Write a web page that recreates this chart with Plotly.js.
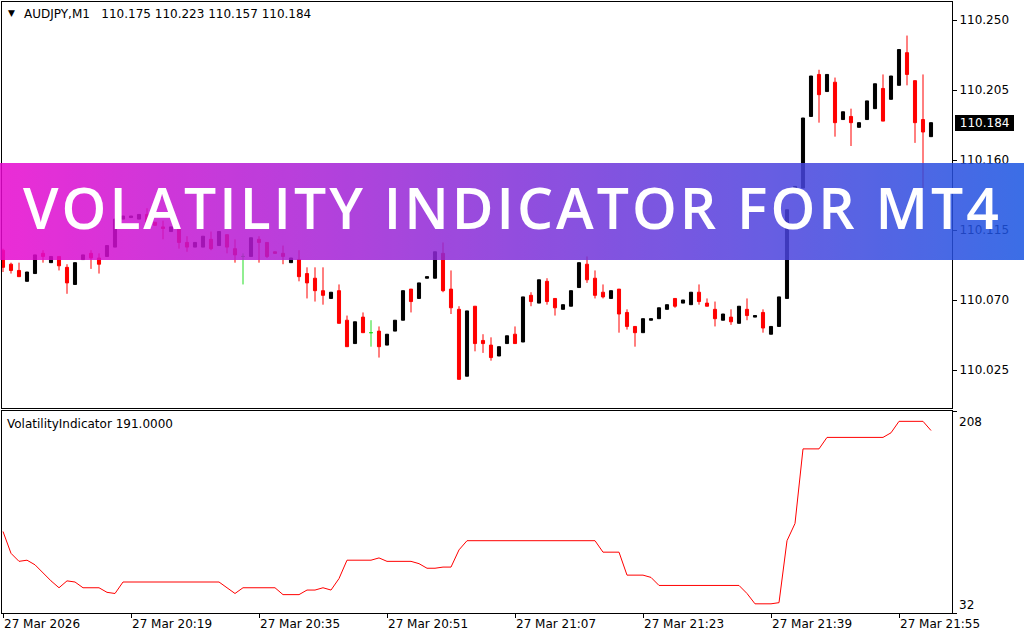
<!DOCTYPE html>
<html><head><meta charset="utf-8">
<script src="https://cdn.plot.ly/plotly-3.0.1.min.js"></script>
<style>html,body{margin:0;padding:0;background:#fff;overflow:hidden}#chart{width:1024px;height:640px}</style>
</head><body><div id="chart"></div>
<script>
// ---------- DATA ----------
const times = ["20:03","20:04","20:05","20:06","20:07","20:08","20:09","20:10","20:11","20:12","20:13","20:14","20:15","20:16","20:17","20:18","20:19","20:20","20:21","20:22","20:23","20:24","20:25","20:26","20:27","20:28","20:29","20:30","20:31","20:32","20:33","20:34","20:35","20:36","20:37","20:38","20:39","20:40","20:41","20:42","20:43","20:44","20:45","20:46","20:47","20:48","20:49","20:50","20:51","20:52","20:53","20:54","20:55","20:56","20:57","20:58","20:59",
"21:00","21:01","21:02","21:03","21:04","21:05","21:06","21:07","21:08","21:09","21:10","21:11","21:12","21:13","21:14","21:15","21:16","21:17","21:18","21:19","21:20","21:21","21:22","21:23","21:24","21:25","21:26","21:27","21:28","21:29","21:30","21:31","21:32","21:33","21:34","21:35","21:36","21:37","21:38","21:39","21:40","21:41","21:42","21:43","21:44","21:45","21:46","21:47","21:48","21:49","21:50","21:51","21:52","21:53","21:54","21:55","21:56","21:57","21:58","21:59"];

const openP = [110.102,110.093,110.089,110.082,110.087,110.100,110.094,110.098,110.091,110.080,
110.096,110.100,110.097,110.098,110.104,110.122,110.123,110.122,110.125,110.120,
110.117,110.114,110.116,110.107,110.104,110.104,110.109,110.105,110.112,110.103,
110.098,110.098,110.109,110.107,110.101,110.100,110.094,110.096,110.087,110.084,
110.076,110.071,110.076,110.057,110.042,110.059,110.049,110.050,110.041,110.050,
110.057,110.077,110.071,110.084,110.084,110.100,110.077,110.064,110.021,110.066,
110.044,110.041,110.034,110.042,110.048,110.043,110.073,110.068,110.082,110.071,
110.064,110.066,110.078,110.093,110.084,110.075,110.071,110.077,110.062,110.053,
110.049,110.057,110.058,110.064,110.071,110.068,110.067,110.075,110.068,110.064,
110.057,110.059,110.055,110.064,110.059,110.062,110.048,110.053,110.071,110.141,
110.142,110.188,110.215,110.204,110.210,110.186,110.188,110.181,110.186,110.193,
110.206,110.199,110.208,110.229,110.211,110.186,110.175];

const highP = [110.103,110.094,110.094,110.088,110.099,110.102,110.098,110.098,110.093,110.094,
110.099,110.102,110.100,110.105,110.122,110.124,110.124,110.125,110.129,110.120,
110.121,110.117,110.116,110.111,110.107,110.111,110.114,110.114,110.112,110.109,
110.100,110.110,110.111,110.107,110.101,110.105,110.097,110.102,110.091,110.091,
110.091,110.075,110.080,110.060,110.056,110.062,110.057,110.053,110.048,110.057,
110.076,110.077,110.081,110.085,110.101,110.107,110.089,110.066,110.063,110.066,
110.048,110.046,110.040,110.047,110.053,110.072,110.075,110.083,110.084,110.071,
110.067,110.076,110.094,110.098,110.089,110.080,110.076,110.077,110.064,110.053,
110.058,110.058,110.065,110.067,110.071,110.070,110.075,110.080,110.071,110.069,
110.061,110.064,110.066,110.071,110.060,110.064,110.053,110.072,110.128,110.143,
110.187,110.214,110.218,110.215,110.213,110.191,110.193,110.184,110.198,110.209,
110.215,110.214,110.231,110.240,110.211,110.215,110.184];

const lowP = [110.088,110.087,110.085,110.082,110.087,110.094,110.094,110.089,110.074,110.080,
110.096,110.090,110.087,110.098,110.104,110.122,110.123,110.122,110.120,110.118,
110.109,110.114,110.103,110.101,110.104,110.104,110.102,110.105,110.100,110.094,
110.080,110.098,110.094,110.097,110.100,110.093,110.094,110.082,110.071,110.069,
110.067,110.071,110.055,110.040,110.042,110.049,110.040,110.033,110.041,110.050,
110.057,110.062,110.071,110.084,110.084,110.075,110.061,110.019,110.021,110.037,
110.036,110.031,110.034,110.042,110.042,110.043,110.066,110.068,110.067,110.060,
110.064,110.066,110.078,110.081,110.071,110.071,110.071,110.049,110.051,110.040,
110.049,110.057,110.058,110.064,110.065,110.068,110.067,110.067,110.066,110.053,
110.057,110.054,110.055,110.057,110.059,110.049,110.048,110.053,110.071,110.141,
110.142,110.188,110.184,110.204,110.175,110.186,110.169,110.181,110.186,110.193,
110.185,110.199,110.208,110.208,110.171,110.142,110.175];

const closeP = [110.091,110.089,110.085,110.088,110.099,110.098,110.098,110.092,110.081,110.094,
110.099,110.097,110.093,110.105,110.122,110.124,110.124,110.125,110.120,110.118,
110.116,110.117,110.107,110.104,110.107,110.111,110.103,110.114,110.104,110.099,
110.098,110.110,110.107,110.098,110.100,110.098,110.097,110.085,110.081,110.076,
110.073,110.075,110.055,110.040,110.056,110.049,110.049,110.040,110.048,110.057,
110.076,110.069,110.081,110.085,110.101,110.076,110.065,110.019,110.063,110.042,
110.042,110.033,110.040,110.047,110.042,110.072,110.069,110.083,110.069,110.065,
110.067,110.076,110.094,110.083,110.073,110.072,110.076,110.061,110.053,110.049,
110.058,110.058,110.065,110.067,110.066,110.070,110.075,110.069,110.066,110.058,
110.061,110.056,110.066,110.060,110.060,110.052,110.053,110.072,110.128,110.143,
110.187,110.214,110.202,110.215,110.184,110.191,110.184,110.184,110.198,110.209,
110.185,110.214,110.231,110.215,110.184,110.178,110.184];

const volatility = [103,84,77,78,74,67,60,54,60,59,54,54,54,50,49,
59,59,59,59,59,59,59,59,59,59,59,59,59,
54,49,54,54,54,54,54,
48,48,48,52,52,54,52,62,
78,78,78,78,80,77,77,77,77,75,71,71,72,72,87,
95,95,95,95,95,95,95,95,95,95,95,95,95,95,95,95,95,
85,85,85,65,65,65,63,
56,56,56,56,56,56,56,56,56,56,56,
49,40,40,40,41,95,110,175,175,175,
185,185,185,185,185,185,185,185,189,199,199,199,199,191];

const priceTicks = [110.250, 110.205, 110.160, 110.115, 110.070, 110.025];
const timeTickCats = ["20:03","20:19","20:35","20:51","21:07","21:23","21:39","21:55"];
const timeTickLabels = ["27 Mar 2026","27 Mar 20:19","27 Mar 20:35","27 Mar 20:51","27 Mar 21:07","27 Mar 21:23","27 Mar 21:39","27 Mar 21:55"];
const indicatorTicks = [208, 32];
const symbolText = "AUDJPY,M1";
const headerPrices = ["110.175","110.223","110.157","110.184"];
const lastPrice = 110.184;
const indicatorName = "VolatilityIndicator";
const indicatorLast = 191;
const bannerText = "VOLATILITY INDICATOR FOR MT4";

// ---------- GEOMETRY ----------
const PL = 2, PR = 952, PT = 2, PB = 613;
const px = v => (v - PL) / (PR - PL);
const py = v => (PB - v) / (PB - PT);

// ---------- TRACES ----------
const idxMain = [], idxDoji = [];
openP.forEach((o, i) => (o === closeP[i] ? idxDoji : idxMain).push(i));
const pick = (arr, idx) => idx.map(i => arr[i]);

const candles = {
  type: 'candlestick', xaxis: 'x2', yaxis: 'y2',
  x: pick(times, idxMain), open: pick(openP, idxMain), high: pick(highP, idxMain),
  low: pick(lowP, idxMain), close: pick(closeP, idxMain),
  whiskerwidth: 0, line: {width: 1},
  increasing: {line: {color: '#000000', width: 1}, fillcolor: '#000000'},
  decreasing: {line: {color: '#ff0000', width: 1}, fillcolor: '#ff0000'},
  hoverinfo: 'skip', showlegend: false
};
const dojis = {
  type: 'candlestick', xaxis: 'x2', yaxis: 'y2',
  x: pick(times, idxDoji), open: pick(openP, idxDoji), high: pick(highP, idxDoji),
  low: pick(lowP, idxDoji), close: pick(closeP, idxDoji),
  whiskerwidth: 0, line: {width: 1},
  increasing: {line: {color: '#22dd22', width: 1}, fillcolor: '#22dd22'},
  decreasing: {line: {color: '#22dd22', width: 1}, fillcolor: '#22dd22'},
  hoverinfo: 'skip', showlegend: false
};
const volLine = {
  type: 'scatter', mode: 'lines', xaxis: 'x', yaxis: 'y',
  x: times, y: volatility, line: {color: '#ff0000', width: 1},
  hoverinfo: 'skip', showlegend: false
};

// ---------- BANNER ----------
const svg = '<svg xmlns="http://www.w3.org/2000/svg" width="1024" height="97" viewBox="0 0 1024 97" preserveAspectRatio="none">' +
  '<defs><linearGradient id="g" x1="0" y1="0" x2="1" y2="0"><stop offset="0" stop-color="#e808d0"/><stop offset="1" stop-color="#1a55e2"/></linearGradient></defs>' +
  '<rect width="1024" height="97" fill="url(#g)"/></svg>';

const font = {family: 'DejaVu Sans', size: 12, color: '#000'};
const axBase = {showgrid: false, zeroline: false, showline: true, mirror: true, linecolor: '#000', linewidth: 1, fixedrange: true};

const layout = {
  width: 1024, height: 640,
  margin: {l: PL, r: 1024 - PR, t: PT, b: 640 - PB, pad: 0},
  paper_bgcolor: '#fff', plot_bgcolor: '#fff', showlegend: false,
  font: font, boxgap: 0.45, hovermode: false,
  xaxis: Object.assign({}, axBase, {
    domain: [0, 1], anchor: 'y', type: 'category', categoryorder: 'array', categoryarray: times,
    range: [-0.125, 118.625], tickvals: timeTickCats, ticktext: timeTickLabels,
    ticks: 'outside', ticklen: 4, tickcolor: '#000', tickwidth: 1,
    ticklabelposition: 'outside right', tickfont: font, rangeslider: {visible: false}
  }),
  xaxis2: Object.assign({}, axBase, {
    domain: [0, 1], anchor: 'y2', matches: 'x', type: 'category', categoryorder: 'array', categoryarray: times,
    showticklabels: false, ticks: '', rangeslider: {visible: false}
  }),
  yaxis: Object.assign({}, axBase, {
    domain: [0, py(411)], anchor: 'x', side: 'right', range: [32, 208],
    tickvals: indicatorTicks, showticklabels: false, ticks: 'outside', ticklen: 4, tickcolor: '#000'
  }),
  yaxis2: Object.assign({}, axBase, {
    domain: [py(408), 1], anchor: 'x2', side: 'right', range: [110.00058, 110.26157],
    tickvals: priceTicks, tickformat: '.3f', ticks: 'outside', ticklen: 4, tickcolor: '#000', tickfont: font
  }),
  images: [{
    source: 'data:image/svg+xml;charset=utf-8,' + encodeURIComponent(svg),
    xref: 'paper', yref: 'paper', x: px(0), y: py(163), sizex: 1024 / (PR - PL), sizey: 97 / (PB - PT),
    xanchor: 'left', yanchor: 'top', sizing: 'stretch', layer: 'above', opacity: 0.85
  }],
  annotations: [
    {xref: 'paper', yref: 'paper', x: px(11.5), y: py(13), text: '\u25BC', showarrow: false, font: {family: 'DejaVu Sans', size: 9, color: '#000'}, xanchor: 'center', yanchor: 'middle'},
    {xref: 'paper', yref: 'paper', x: px(22), y: py(14), text: symbolText + '\u00A0\u00A0\u00A0' + headerPrices.join('\u00A0'), showarrow: false, font: font, xanchor: 'left', yanchor: 'middle'},
    {xref: 'paper', yref: 'paper', x: px(5), y: py(424), text: indicatorName + ' ' + indicatorLast.toFixed(4), showarrow: false, font: font, xanchor: 'left', yanchor: 'middle'},
    {xref: 'paper', yref: 'y', x: px(957), y: indicatorTicks[0], yshift: -11, text: String(indicatorTicks[0]), showarrow: false, font: font, xanchor: 'left', yanchor: 'middle'},
    {xref: 'paper', yref: 'y', x: px(957), y: indicatorTicks[1], yshift: 8, text: String(indicatorTicks[1]), showarrow: false, font: font, xanchor: 'left', yanchor: 'middle'},
    {xref: 'paper', yref: 'y2', x: px(955), y: lastPrice, text: '\u00A0' + lastPrice.toFixed(3) + '\u00A0', showarrow: false, font: {family: 'DejaVu Sans', size: 12, color: '#fff'}, bgcolor: '#000', borderpad: 1, borderwidth: 0, xanchor: 'left', yanchor: 'middle'},
    {xref: 'paper', yref: 'paper', x: px(512), y: py(207), text: '<span style="letter-spacing:3px">' + bannerText + '</span>', showarrow: false, font: {family: 'Open Sans', size: 57, color: '#ffffff', weight: 600}, xanchor: 'center', yanchor: 'middle'}
  ]
};

Plotly.newPlot('chart', [candles, dojis, volLine], layout, {staticPlot: true, displayModeBar: false});
</script>
</body></html>
